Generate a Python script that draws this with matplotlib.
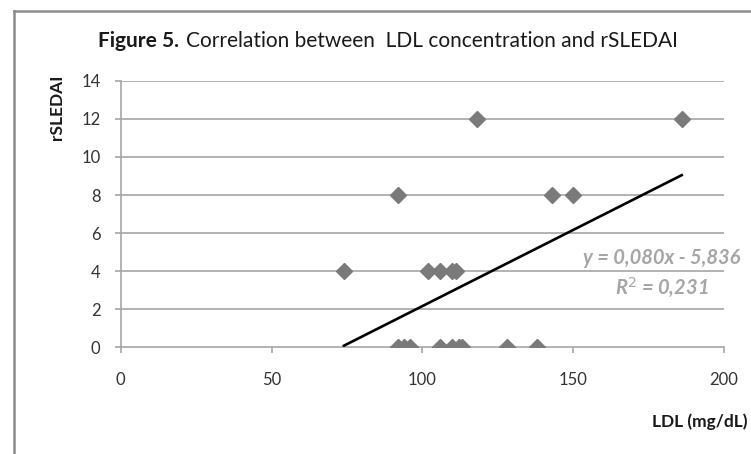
import matplotlib.pyplot as plt
from matplotlib.lines import Line2D
import numpy as np

# LDL (mg/dL) and rSLEDAI values
ldl = [92, 94, 96, 106, 110, 112, 113, 128, 138,
       74, 102, 106, 110, 111,
       92, 143, 150,
       118, 186]
sledai = [0, 0, 0, 0, 0, 0, 0, 0, 0,
          4, 4, 4, 4, 4,
          8, 8, 8,
          12, 12]
slope = 0.080
intercept = -5.836
r2 = 0.231

x_ticks = [0, 50, 100, 150, 200]
y_ticks = [0, 2, 4, 6, 8, 10, 12, 14]

plt.rcParams['font.family'] = ['Lato', 'DejaVu Sans']

fig = plt.figure(figsize=(7.51, 4.54), dpi=100)
ax = fig.add_axes([0.1607, 0.235, 0.8033, 0.587])

grid_c = '#a6a6a6'
for yv in y_ticks[1:]:
    ax.axhline(yv, color=grid_c, lw=1.2, zorder=1)

ax.plot(ldl, sledai, linestyle='none', marker='D', markersize=8,
        color='#7a7a7a', zorder=3)

xs = np.array([min(ldl), max(ldl)])
ax.plot(xs, slope * xs + intercept, color='black', lw=1.9, zorder=4)

ax.set_xlim(0, 200)
ax.set_ylim(0, 14)
ax.set_xticks(x_ticks)
ax.set_yticks(y_ticks)
ax.tick_params(axis='both', colors=grid_c, labelcolor='#333333',
               labelsize=12, length=4.5, width=1.2, direction='out')
ax.tick_params(axis='x', pad=13)
ax.tick_params(axis='y', pad=10)
for s in ['top', 'right']:
    ax.spines[s].set_visible(False)
for s in ['left', 'bottom']:
    ax.spines[s].set_color(grid_c)
    ax.spines[s].set_linewidth(1.2)

# title: bold "Figure 5." followed by regular text, centred as a block
t1 = fig.text(0, 0.91, 'Figure 5.', fontsize=15, fontweight='bold',
              ha='left', va='center', color='#1a1a1a')
t2 = fig.text(0, 0.91, 'Correlation between  LDL concentration and rSLEDAI',
              fontsize=15, ha='left', va='center', color='#1a1a1a')
r = fig.canvas.get_renderer()
w1 = t1.get_window_extent(r).width
w2 = t2.get_window_extent(r).width
gap = 7
left = 388 - (w1 + gap + w2) / 2
t1.set_x(left / 751)
t2.set_x((left + w1 + gap) / 751)

fig.text(0.076, 0.764, 'rSLEDAI', rotation=90, fontsize=12.5, fontweight='bold',
         ha='center', va='center', color='#1a1a1a')
fig.text(0.995, 0.071, 'LDL (mg/dL)', fontsize=12.5, fontweight='bold',
         ha='right', va='center', color='#1a1a1a')

eq = 'y = 0,{:03d}x - {}'.format(int(round(slope * 1000)),
                                 ('%.3f' % -intercept).replace('.', ','))
fig.text(0.881, 0.432, eq, fontsize=14.5, fontstyle='italic', fontweight='bold',
         ha='center', va='center', color='#a6a6a6')
fig.text(0.881, 0.368, 'R$^2$ = ' + ('%.3f' % r2).replace('.', ','),
         fontsize=14.5, fontstyle='italic', fontweight='bold',
         ha='center', va='center', color='#a6a6a6')

# outer frame (left and top edges visible)
fig.add_artist(Line2D([0.018, 0.018], [0, 0.975], transform=fig.transFigure,
                      color='#8c8c8c', lw=1.8))
fig.add_artist(Line2D([0.018, 1.0], [0.975, 0.975], transform=fig.transFigure,
                      color='#8c8c8c', lw=1.8))

fig.savefig('out.png', dpi=100)
